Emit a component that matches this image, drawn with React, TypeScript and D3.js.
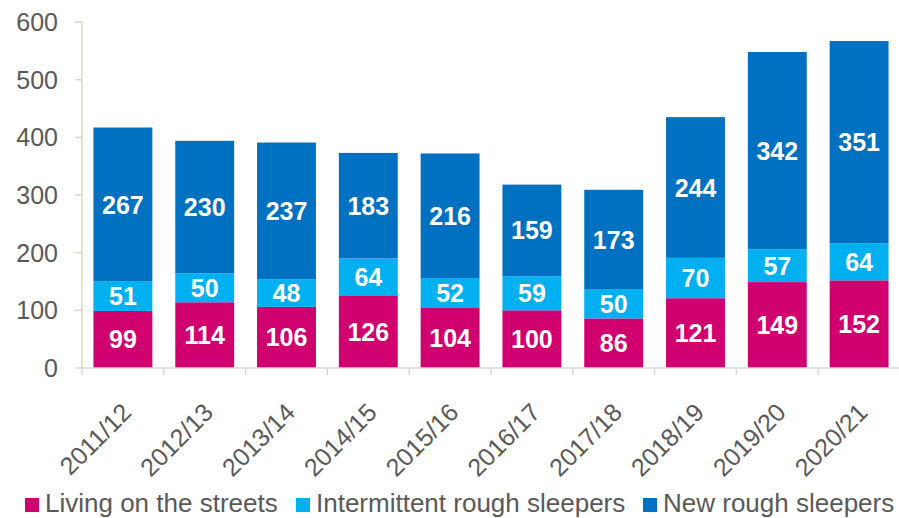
import { useEffect, useRef } from 'react'
import * as d3 from 'd3'

// values
const years = ['2011/12', '2012/13', '2013/14', '2014/15', '2015/16', '2016/17', '2017/18', '2018/19', '2019/20', '2020/21']
const livingOnStreets = [99, 114, 106, 126, 104, 100, 86, 121, 149, 152]
const intermittent = [51, 50, 48, 64, 52, 59, 50, 70, 57, 64]
const newSleepers = [267, 230, 237, 183, 216, 159, 173, 244, 342, 351]
const seriesNames = ['Living on the streets', 'Intermittent rough sleepers', 'New rough sleepers']
const seriesColors = ['#D0006F', '#00B0F0', '#0070C0']
const yTicks = [0, 100, 200, 300, 400, 500, 600]

const W = 899
const H = 518
const FONT = '"Liberation Sans", Arial, sans-serif'

export default function App() {
  const ref = useRef<SVGSVGElement>(null)

  useEffect(() => {
    const svg = d3.select(ref.current)
    svg.selectAll('*').remove()

    const left = 82, right = 900, top = 22, bottom = 368

    const x = d3.scaleBand().domain(years).range([left, right]).paddingInner(0.28).paddingOuter(0.14)
    const y = d3.scaleLinear().domain([0, 600]).range([bottom, top])

    const rows = years.map((yr, i) => ({ year: yr, a: livingOnStreets[i], b: intermittent[i], c: newSleepers[i] }))
    const stacked = d3.stack<any>().keys(['a', 'b', 'c'])(rows)

    // y axis line + ticks
    svg.append('line').attr('x1', left).attr('x2', left).attr('y1', top).attr('y2', bottom)
      .attr('stroke', '#DDD9C3').attr('stroke-width', 1.5)
    const yg = svg.append('g')
    yTicks.forEach(t => {
      yg.append('line').attr('x1', left - 7).attr('x2', left).attr('y1', y(t)).attr('y2', y(t))
        .attr('stroke', '#DDD9C3').attr('stroke-width', 1.5)
      yg.append('text').attr('x', 58).attr('y', y(t)).attr('dy', '0.36em')
        .attr('text-anchor', 'end').attr('font-family', FONT).attr('font-size', 25)
        .attr('fill', '#595959').text(t)
    })

    // bars
    const bars = svg.append('g')
    stacked.forEach((s, si) => {
      bars.selectAll(null).data(s).join('rect')
        .attr('x', (d: any) => x(d.data.year)!)
        .attr('width', x.bandwidth())
        .attr('y', (d: any) => y(d[1]))
        .attr('height', (d: any) => y(d[0]) - y(d[1]))
        .attr('fill', seriesColors[si])
      bars.selectAll(null).data(s).join('text')
        .attr('x', (d: any) => x(d.data.year)! + x.bandwidth() / 2)
        .attr('y', (d: any) => (y(d[0]) + y(d[1])) / 2)
        .attr('dy', '0.36em')
        .attr('text-anchor', 'middle')
        .attr('font-family', FONT).attr('font-size', 25).attr('font-weight', 'bold')
        .attr('fill', '#fff')
        .text((d: any) => d[1] - d[0])
    })

    // x axis
    svg.append('line').attr('x1', left).attr('x2', right).attr('y1', bottom).attr('y2', bottom)
      .attr('stroke', '#D9D9D9').attr('stroke-width', 1.5)
    const xg = svg.append('g')
    years.forEach((yr, i) => {
      const tickX = left + i * x.step()
      xg.append('line').attr('x1', tickX).attr('x2', tickX)
        .attr('y1', bottom).attr('y2', bottom + 7).attr('stroke', '#D9D9D9').attr('stroke-width', 1.5)
      const cx = x(yr)! + x.bandwidth() / 2
      xg.append('text')
        .attr('transform', `translate(${cx + 10},${bottom + 46}) rotate(-45)`)
        .attr('text-anchor', 'end')
        .attr('font-family', FONT).attr('font-size', 25).attr('fill', '#595959')
        .text(yr)
    })

    // legend
    const legendX = [25, 296, 643]
    seriesNames.forEach((name, i) => {
      const g = svg.append('g').attr('transform', `translate(${legendX[i]},0)`)
      g.append('rect').attr('x', 0).attr('y', 498).attr('width', 14).attr('height', 14).attr('fill', seriesColors[i])
      g.append('text').attr('x', 20).attr('y', 512)
        .attr('font-family', FONT).attr('font-size', 26).attr('fill', '#595959').text(name)
    })
  }, [])

  return (
    <svg ref={ref} width={W} height={H} style={{ position: 'absolute', left: 0, top: 0, background: '#fff' }} />
  )
}
